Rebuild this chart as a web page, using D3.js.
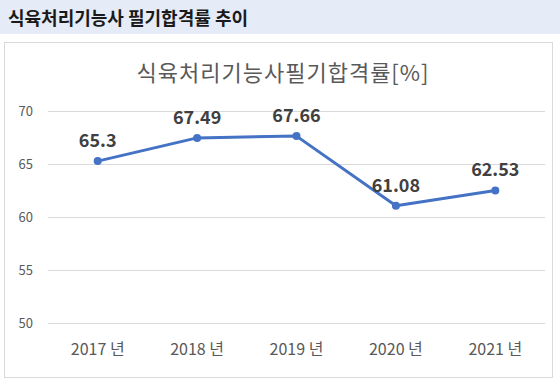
<!DOCTYPE html>
<html>
<head>
<meta charset="utf-8">
<script src="https://cdn.jsdelivr.net/npm/d3@7"></script>
<style>
  body{margin:0;background:#fff;font-family:"Noto Sans CJK KR","Noto Sans",sans-serif;}
</style>
</head>
<body>
<div id="chart"></div>
<script>
/* ---------- DATA ---------- */
const YEARS=["2017 년","2018 년","2019 년","2020 년","2021 년"];
const RATES=[65.3,67.49,67.66,61.08,62.53];
const Y_TICKS=[50,55,60,65,70];
const HEADER="식육처리기능사 필기합격률 추이";
const TITLE="식육처리기능사필기합격률[%]";

/* ---------- CONFIG ---------- */
const W=560,H=385;
const LINE="#4472C4", GRID="#d9d9d9", TXT="#595959";

const svg=d3.select("#chart").append("svg").attr("width",W).attr("height",H);

/* header band */
svg.append("rect").attr("x",0).attr("y",0).attr("width",W).attr("height",34).attr("fill","#e5ebf7");
svg.append("text").attr("x",8).attr("y",25).attr("fill","#1a1a1a")
   .style("font-size","18px").style("font-weight","bold").text(HEADER);

/* chart frame */
svg.append("rect").attr("x",4.5).attr("y",42.5).attr("width",548).attr("height",335)
   .attr("fill","#fff").attr("stroke",GRID).attr("stroke-width",1);

svg.append("text").attr("x",283).attr("y",81).attr("text-anchor","middle")
   .attr("fill",TXT).style("font-size","22px").style("letter-spacing","1px").text(TITLE);

const x=d3.scaleBand().domain(YEARS).range([48,545]);
const y=d3.scaleLinear().domain([50,70]).range([323.3,111.3]);
const cx=d=>x(d)+x.bandwidth()/2;

/* grid */
svg.append("g").selectAll("line").data(Y_TICKS).enter().append("line")
   .attr("x1",48).attr("x2",545).attr("y1",d=>Math.round(y(d))+0.5).attr("y2",d=>Math.round(y(d))+0.5)
   .attr("stroke",GRID).attr("stroke-width",1);

/* y axis */
svg.append("g").attr("transform","translate(33,0)")
   .call(d3.axisLeft(y).tickValues(Y_TICKS).tickSize(0).tickPadding(0))
   .call(g=>g.select(".domain").remove())
   .selectAll("text").attr("fill",TXT).style("font-size","13px")
   .style("font-family","'Noto Sans CJK KR',sans-serif");

/* x axis */
svg.append("g").attr("transform","translate(0,341)")
   .call(d3.axisBottom(x).tickSize(0).tickPadding(0))
   .call(g=>g.select(".domain").remove())
   .selectAll("text").attr("fill",TXT).style("font-size","16px").attr("dy","0.85em")
   .style("font-family","'Noto Sans CJK KR',sans-serif");

/* line */
const pts=YEARS.map((d,i)=>({k:d,v:RATES[i]}));
svg.append("path").datum(pts)
   .attr("d",d3.line().x(d=>cx(d.k)).y(d=>y(d.v)))
   .attr("fill","none").attr("stroke",LINE).attr("stroke-width",3).attr("stroke-linejoin","round");

svg.append("g").selectAll("circle").data(pts).enter().append("circle")
   .attr("cx",d=>cx(d.k)).attr("cy",d=>y(d.v)).attr("r",4).attr("fill",LINE);

/* labels */
svg.append("g").selectAll("text").data(pts).enter().append("text")
   .attr("x",d=>cx(d.k)).attr("y",d=>y(d.v)-14).attr("text-anchor","middle")
   .attr("fill","#404040").style("font-size","18px").style("font-weight","bold")
   .text(d=>d.v);
</script>
</body>
</html>
